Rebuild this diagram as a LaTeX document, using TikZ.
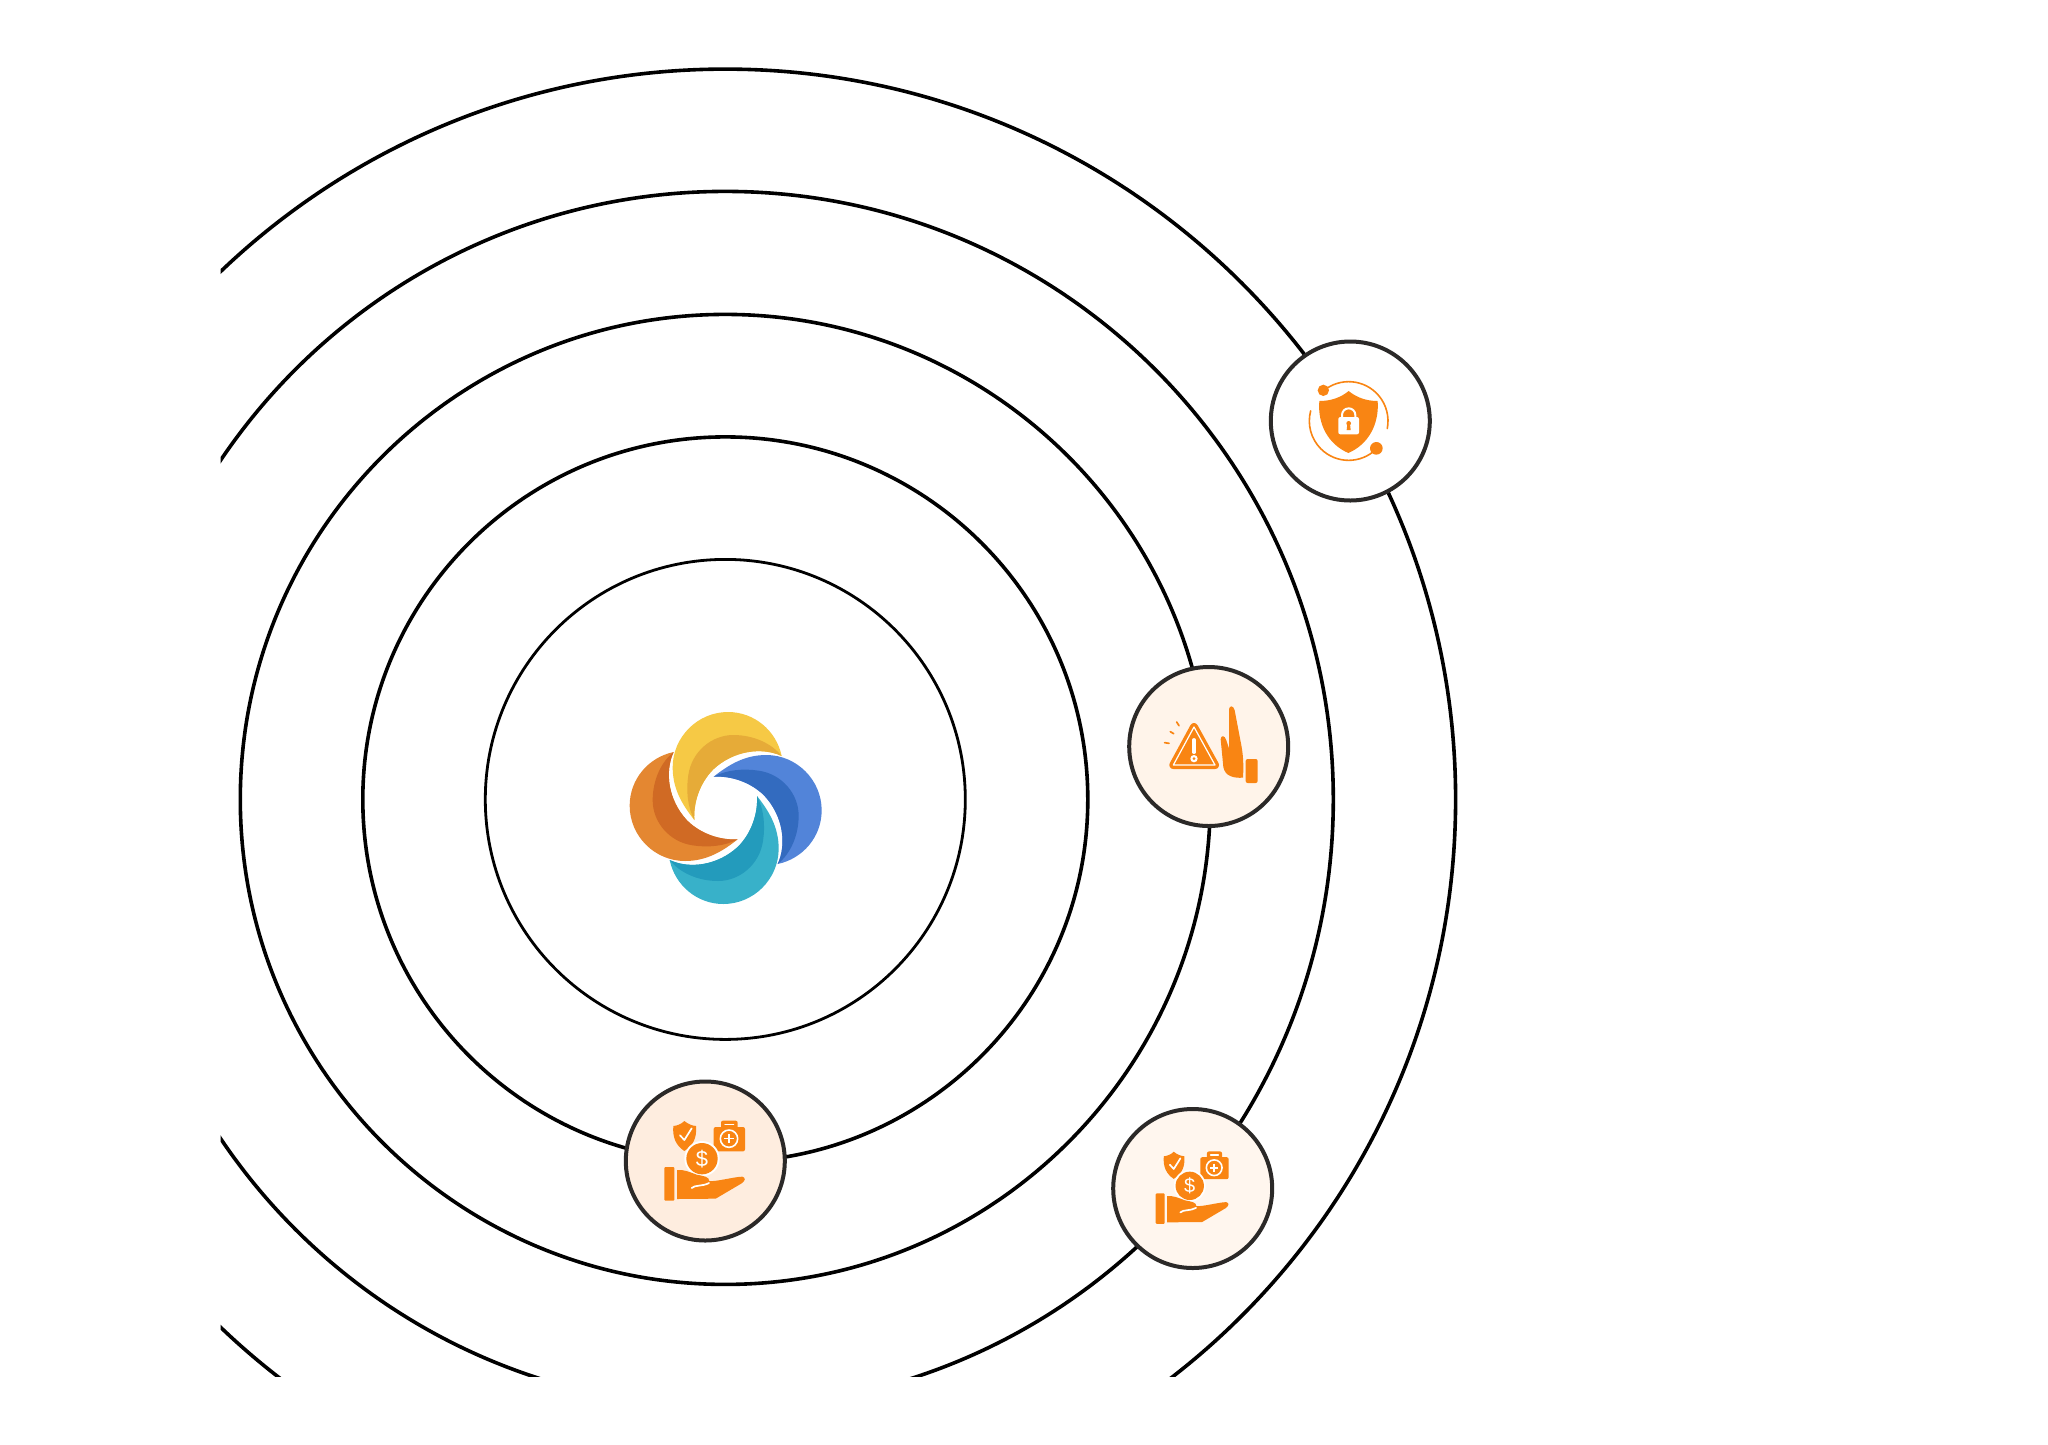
\documentclass[tikz,border=0pt]{standalone}
\usepackage{fontspec}
\setmainfont{Liberation Sans}
\definecolor{icono}{HTML}{F98513}
\definecolor{ringk}{HTML}{2B2928}
\definecolor{badgea}{HTML}{FFF4EA}
\definecolor{badgeb}{HTML}{FEEDDF}
\definecolor{badgec}{HTML}{FFF6EE}
\definecolor{ylight}{HTML}{F6C945}
\definecolor{ydark}{HTML}{E6AB38}
\definecolor{blight}{HTML}{5284D9}
\definecolor{bdark}{HTML}{336BBF}
\definecolor{tlight}{HTML}{38B1C9}
\definecolor{tdark}{HTML}{239BBC}
\definecolor{olight}{HTML}{E48731}
\definecolor{odark}{HTML}{D06A24}
\tikzset{
  ring/.style={draw=black,line width=3.6pt},
  badge/.style={circle,draw=ringk,line width=4pt,minimum size=159pt,inner sep=0pt},
  wline/.style={draw=white,line width=1.7pt,line cap=round,line join=round},
  oline/.style={draw=icono,line width=1.6pt,line cap=round},
  dollar/.style={text=white,inner sep=0pt}
}
% petal in 3x crop coordinates, rotated about the logo centre
\newcommand{\petal}[3]{%
  \begin{scope}[rotate around={#1:(377,384)}]
    \fill[#2] (283,420) .. controls (245,372) and (218,325) .. (218,262)
      .. controls (218,171) and (293,96) .. (384,96)
      .. controls (463,96) and (529,152) .. (545,228)
      .. controls (485,200) and (400,212) .. (340,268)
      .. controls (298,310) and (280,370) .. (283,420) -- cycle;
    \fill[#3] (283,420) .. controls (262,380) and (258,330) .. (265,285)
      .. controls (275,215) and (335,165) .. (400,165)
      .. controls (460,165) and (515,190) .. (545,228)
      .. controls (485,200) and (400,212) .. (340,268)
      .. controls (298,310) and (280,370) .. (283,420) -- cycle;
  \end{scope}}
% money-in-hand icon
\newcommand{\moneyicon}[4]{%
  \begin{scope}[shift={(#1)},x=#2pt,y=-#2pt]
    \fill[icono] (208,135) .. controls (220,145) and (232,149) .. (243,150)
      .. controls (246,185) and (235,208) .. (208,225)
      .. controls (183,208) and (172,185) .. (175,150)
      .. controls (186,149) and (198,145) .. (208,135) -- cycle;
    \draw[wline] (195,178) -- (208,192) -- (230,157);
    \fill[icono,rounded corners=2pt] (296,153) rectangle (390,226);
    \fill[icono,rounded corners=2pt] (318,160) -- (318,134) -- (368,134) -- (368,160) -- cycle;
    \draw[wline,line width=1.2pt] (330,146) -- (356,146);
    \draw[white,line width=1.6pt] (342,188) circle[radius=26];
    \draw[white,line width=1.6pt] (328,188) -- (356,188) (342,174) -- (342,202);
    \fill[white] (261,248) circle[radius=53];
    \fill[icono] (261,248) circle[radius=47];
    \node[dollar,font=\fontsize{#3}{#3}\selectfont] (#4) at (261,248) {\$};
    \fill[icono,rounded corners=1pt] (148,273) rectangle (178,374);
    \fill[icono] (186,282) .. controls (205,280) and (225,288) .. (245,296)
      .. controls (265,300) and (283,302) .. (283,315)
      .. controls (300,318) and (360,302) .. (382,302)
      .. controls (392,304) and (392,314) .. (380,322)
      -- (302,368) -- (186,369) -- cycle;
    \draw[wline] (230,336) .. controls (240,326) and (262,332) .. (282,321);
  \end{scope}}
\begin{document}
\begin{tikzpicture}[x=1pt,y=-1pt]
\useasboundingbox (0,0) rectangle (2048,1444);
\fill[white] (0,0) rectangle (2048,1444);
\coordinate (c) at (725.3,799.4);
\begin{scope}
  \clip (220.7,0) rectangle (2048,1376.5);
  \draw[ring,line width=2.8pt] (c) circle[radius=240];
  \draw[ring] (c) circle[radius=362.5];
  \draw[ring] (c) circle[radius=485];
  \draw[ring] (c) circle[radius=608];
  \draw[ring] (c) circle[radius=730.3];
\end{scope}
% logo
\begin{scope}[shift={(600,680)},x=0.33333pt,y=-0.33333pt]
  \petal{0}{ylight}{ydark}
  \petal{-90}{blight}{bdark}
  \petal{-180}{tlight}{tdark}
  \petal{-270}{olight}{odark}
\end{scope}
% badges
\node[badge,fill=white] (n1) at (1350.3,421) {};
\node[badge,fill=badgea] (n2) at (1208.7,746.5) {};
\node[badge,fill=badgeb] (n3) at (705.3,1161) {};
\node[badge,fill=badgec] (n4) at (1192.7,1188.5) {};
% shield-lock icon
\begin{scope}[shift={(1260,331)},x=0.33333pt,y=-0.33333pt]
  \draw[oline] (266,270)+(230:118) arc[start angle=230,end angle=371,radius=118];
  \draw[oline] (266,270)+(45:118) arc[start angle=45,end angle=195,radius=118];
  \fill[icono] (190,178) circle[radius=17];
  \fill[icono] (349,352) circle[radius=19];
  \fill[icono] (266,180) .. controls (290,200) and (320,210) .. (353,210)
    .. controls (358,280) and (325,340) .. (265,366)
    .. controls (205,340) and (172,280) .. (178,210)
    .. controls (212,210) and (242,200) .. (266,180) -- cycle;
  \draw[white,line width=2pt] (246,262) -- (246,252) arc[start angle=180,end angle=360,radius=20] -- (286,262);
  \fill[white,rounded corners=2pt] (235,258) rectangle (297,310);
  \fill[icono] (266,277) circle[radius=7];
  \fill[icono] (262,279) -- (270,279) -- (272,297) -- (260,297) -- cycle;
\end{scope}
% warning and hand icon
\begin{scope}[shift={(1120,661)},x=0.33333pt,y=-0.33333pt]
  \draw[icono,fill=icono,line width=8pt,line join=round] (222,198) -- (160,312) -- (285,312) -- cycle;
  \draw[white,line width=1.2pt,line join=round] (222,198) -- (160,312) -- (285,312) -- cycle;
  \draw[white,line width=3.2pt,line cap=round] (222,236) -- (222,274);
  \fill[white] (222,293) circle[radius=11];
  \fill[icono] (222,293) circle[radius=4.5];
  \draw[icono,line width=1.7pt,line cap=round] (134,245) -- (147,247) (151,212) -- (161,218) (170,183) -- (177,194);
  \fill[icono] (327,145) .. controls (328,133) and (340,132) .. (344,148)
    -- (360,232) .. controls (368,270) and (372,300) .. (369,350)
    .. controls (340,352) and (315,345) .. (310,318)
    -- (302,235) .. controls (302,222) and (315,222) .. (319,238)
    -- (327,262) -- cycle;
  \fill[icono,rounded corners=2pt] (377,294) rectangle (413,366);
\end{scope}
\moneyicon{615,1076}{0.33333}{22}{coina}
\moneyicon{1111,1111}{0.3017}{20}{coinb}
\end{tikzpicture}
\end{document}
